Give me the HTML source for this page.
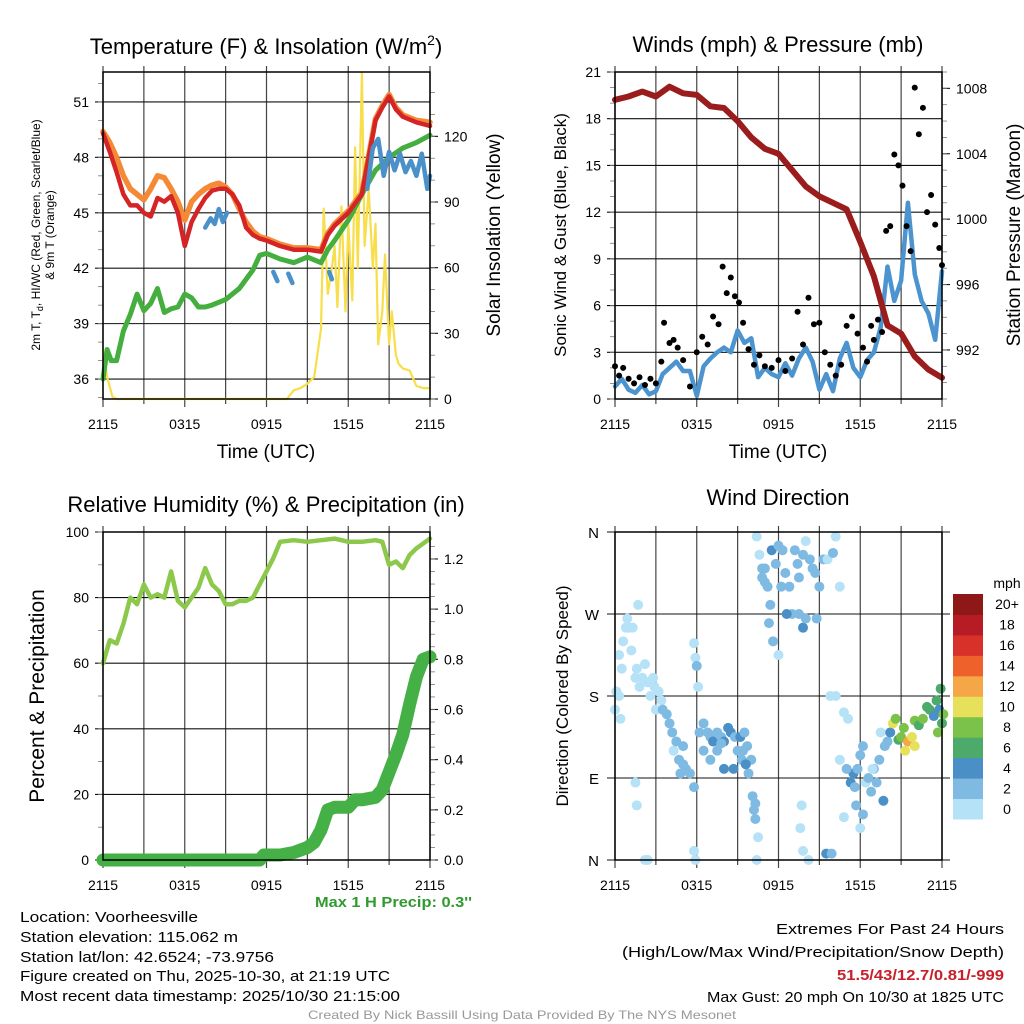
<!DOCTYPE html>
<html><head><meta charset="utf-8"><style>
body{margin:0;background:#fff}
svg{display:block;font-family:"Liberation Sans",sans-serif}
</style></head><body>
<svg id="chart" width="1024" height="1024" viewBox="0 0 1024 1024">
<rect width="1024" height="1024" fill="#fff"/>
<g id="g1"></g>
<g id="g2"></g>
<g id="g3"></g>
<g id="g4"></g>
<g id="txt" font-size="15">
<text x="20" y="922" textLength="178" lengthAdjust="spacingAndGlyphs">Location: Voorheesville</text>
<text x="20" y="942" textLength="218" lengthAdjust="spacingAndGlyphs">Station elevation: 115.062 m</text>
<text x="20" y="962" textLength="254" lengthAdjust="spacingAndGlyphs">Station lat/lon: 42.6524; -73.9756</text>
<text x="20" y="981" textLength="370" lengthAdjust="spacingAndGlyphs">Figure created on Thu, 2025-10-30, at 21:19 UTC</text>
<text x="20" y="1001" textLength="380" lengthAdjust="spacingAndGlyphs">Most recent data timestamp: 2025/10/30 21:15:00</text>
<text x="1004" y="934" text-anchor="end" textLength="228" lengthAdjust="spacingAndGlyphs">Extremes For Past 24 Hours</text>
<text x="1004" y="957" text-anchor="end" textLength="382" lengthAdjust="spacingAndGlyphs">(High/Low/Max Wind/Precipitation/Snow Depth)</text>
<text x="1004" y="980" text-anchor="end" fill="#c8202a" font-weight="bold" textLength="167" lengthAdjust="spacingAndGlyphs">51.5/43/12.7/0.81/-999</text>
<text x="1004" y="1002" text-anchor="end" textLength="297" lengthAdjust="spacingAndGlyphs">Max Gust: 20 mph On 10/30 at 1825 UTC</text>
<text x="522" y="1019" text-anchor="middle" fill="#999" font-size="12" textLength="428" lengthAdjust="spacingAndGlyphs">Created By Nick Bassill Using Data Provided By The NYS Mesonet</text>
<text x="472" y="907" text-anchor="end" fill="#2f9a2f" font-weight="bold" textLength="157" lengthAdjust="spacingAndGlyphs">Max 1 H Precip: 0.3''</text>
</g>
</svg>
<script>
// ---------- data ----------
const xTickLabels = ["2115","0315","0915","1515","2115"];
const tempTicks = [36,39,42,45,48,51];
const insTicks = [0,30,60,90,120];
const windTicks = [0,3,6,9,12,15,18,21];
const presTicks = [992,996,1000,1004,1008];
const rhTicks = [0,20,40,60,80,100];
const precipTicks = [0,0.2,0.4,0.6,0.8,1.0,1.2];
const dirTicks = [0,90,180,270,360];
const dirLabels = ["N","E","S","W","N"];

const redHours = [0,0.5,1,1.5,2,2.5,3,3.5,4,4.5,5,5.5,6,6.5,7,7.5,8,8.5,9,9.5,10,10.5,11,11.5,12,13,14,15,16,16.5,17,18,19,19.5,20,20.5,21,21.5,22,23,24];
const redTemp = [49.3,48.3,47.2,46.0,45.4,45.4,45.0,44.8,45.8,45.6,45.9,45.0,43.2,44.5,45.2,45.8,46.2,46.3,46.3,46.0,45.4,44.2,43.8,43.6,43.5,43.2,43.0,43.0,42.9,43.8,44.3,45.0,46.0,48.0,50.0,50.7,51.3,50.6,50.2,49.9,49.7];
const orangeHours = [0,0.5,1,1.5,2,2.5,3,3.5,4,4.5,5,5.5,6,6.5,7,7.5,8,8.5,9,9.5,10,10.5,11,11.5,12,13,14,15,16,16.5,17,18,19,19.5,20,20.5,21,21.5,22,23,24];
const orangeTemp = [49.4,48.8,48.0,47.0,46.3,46.0,45.7,46.3,47.0,46.9,46.3,45.6,44.6,45.6,46.0,46.3,46.5,46.6,46.4,46.0,45.2,44.5,44.0,43.7,43.6,43.3,43.1,43.1,43.0,43.9,44.4,45.1,46.1,48.1,50.1,50.8,51.4,50.7,50.3,50.0,49.9];
const greenHours = [0,0.3,0.6,1,1.5,2,2.5,3,3.5,4,4.5,5,5.5,6,6.5,7,7.5,8,9,10,11,11.5,12,13,14,15,16,16.5,17,18,19,20,21,22,23,24];
const greenTemp = [36.0,37.6,37.0,37.0,38.6,39.5,40.6,39.7,40.1,40.9,39.6,39.8,39.9,40.6,40.4,39.9,39.9,40.0,40.3,40.9,41.9,42.7,42.8,42.5,42.3,42.6,42.3,43.0,43.5,44.6,46.0,47.3,48.0,48.5,48.8,49.2];
const blueSegHours = [[7.5,7.9,8.2,8.5,8.8,9.1],[12.5,12.8],[13.6,13.9],[16.6,16.8],[19.4,19.8,20.2,20.6,21.0,21.4,21.8,22.2,22.6,23.0,23.4,23.8,24]];
const blueSegTemp = [[44.2,44.7,44.4,45.2,44.5,45.0],[41.8,41.3],[41.7,41.2],[41.8,41.4],[46.3,48.5,49.0,47.0,48.3,47.3,48.2,47.2,47.8,47.0,48.2,46.3,47.0]];
const insHours = [0,0.3,0.7,1,13.5,14,14.5,15,15.5,16,16.2,16.5,16.8,17,17.2,17.5,17.8,18,18.3,18.5,18.7,19,19.2,19.5,19.8,20,20.2,20.5,20.7,21,21.2,21.5,21.7,22,22.5,23,23.5,24];
const insValues = [22,10,1,0,0,4,5,7,10,32,87,48,60,70,42,88,40,80,45,115,60,149,70,96,60,80,25,40,66,25,40,20,16,14,13,6,5,5];

const presHours = [0,1,2,3,4,5,6,7,8,9,10,11,12,13,14,15,16,17,18,19,20,21,22,23,24];
const presValues = [1007.3,1007.5,1007.8,1007.5,1008.1,1007.7,1007.6,1006.9,1006.8,1006.0,1005.0,1004.3,1004.0,1003.0,1002.0,1001.4,1001.0,1000.6,998.6,996.5,993.5,993.0,991.6,990.8,990.3];
const windHours = [0,0.5,1,1.5,2,2.5,3,3.5,4,4.5,5,5.5,6,6.5,7,7.5,8,8.5,9,9.5,10,10.5,11,11.5,12,12.5,13,13.5,14,14.5,15,15.5,16,16.5,17,17.5,18,18.5,19,19.5,20,20.5,21,21.5,22,22.5,23,23.5,24];
const windSpeed = [0.8,1.3,0.6,0.4,0.9,0.3,0.5,1.6,2.0,2.4,1.8,1.8,0.2,2.1,2.6,3.0,3.3,3.0,4.4,3.6,3.9,1.4,2.0,1.6,1.4,2.3,1.5,2.6,3.3,2.4,0.6,1.6,0.5,2.6,3.6,2.0,1.4,2.5,3.0,4.6,8.5,6.3,7.6,12.6,8.0,6.3,5.5,3.8,8.2];
const gustHours = [0,0.3,0.6,1,1.4,1.8,2.2,2.6,3,3.4,3.6,4,4.3,4.6,5,5.5,6,6.4,6.8,7.2,7.6,7.9,8.2,8.5,8.8,9.1,9.4,9.8,10.2,10.6,11,11.5,12,12.5,13,13.4,13.8,14.2,14.6,15,15.4,15.8,16.2,16.6,17,17.4,17.8,18.2,18.5,18.8,19.0,19.3,19.6,19.9,20.2,20.5,20.8,21.1,21.4,21.7,22,22.3,22.6,22.9,23.2,23.5,23.8,24];
const gustSpeed = [2.1,1.5,2.0,1.3,1.0,1.4,0.9,1.3,1.0,2.4,4.9,3.6,3.8,3.3,2.5,0.8,3.0,4.0,3.5,5.3,4.8,8.5,6.8,7.8,6.6,6.2,4.9,3.2,2.2,2.8,2.1,2.0,2.5,1.8,2.6,5.6,3.5,6.5,4.8,4.9,3.0,2.2,1.5,2.2,4.7,5.3,4.2,3.3,2.4,4.7,3.8,5.1,4.3,10.8,11.1,15.7,15.0,13.7,11.1,9.5,20.0,17.0,18.7,12.0,13.1,11.2,9.7,8.6,14.7,12.1,9.1];

const rhHours = [0,0.5,1,1.5,2,2.5,3,3.5,4,4.5,5,5.5,6,6.5,7,7.5,8,8.5,9,9.5,10,10.5,11,11.5,12,12.5,13,14,15,16,17,18,19,20,20.5,21,21.5,22,22.5,23,24];
const rhValues = [60,67,66,72,80,78,84,80,81,80,88,79,77,80,83,89,84,82,78,78,79,79,80,84,88,92,97,97.5,97,97.5,98,97,97,97.5,97,90,91,89,93,95,98];
const precipHours = [0,11.5,11.8,13,14,15,15.5,16,16.5,17,18,18.5,19,20,20.5,21,21.5,22,22.5,23,23.5,24];
const precipValues = [0,0,0.02,0.02,0.03,0.05,0.07,0.12,0.2,0.21,0.21,0.24,0.24,0.25,0.28,0.35,0.42,0.5,0.62,0.73,0.8,0.81];

const dirHours = [0.0,0.1,0.3,0.5,0.6,0.8,0.9,1.0,1.2,1.3,1.5,1.6,1.8,2.0,2.2,2.4,2.6,2.8,2.9,3.0,3.2,3.4,1.7,1.5,1.6,2.2,2.4,0.4,0.3,
3.5,3.8,4.0,4.2,4.3,4.5,4.7,5.0,5.2,5.5,5.0,4.8,5.8,5.9,6.0,6.1,5.8,5.9,5.8,
6.2,6.5,6.8,7.0,7.2,7.5,7.8,8.0,8.3,8.5,8.8,9.0,9.2,9.5,9.7,6.5,7.0,7.5,8.0,8.7,9.3,9.8,10.0,9.6,9.4,7.8,
10.1,10.2,10.3,10.5,10.4,10.3,
10.4,10.6,10.8,11.0,11.2,11.5,11.8,12.0,12.3,11.3,11.6,12.0,12.2,12.5,12.8,13.0,13.2,13.5,13.8,14.0,14.3,14.5,14.7,15.0,15.3,15.6,12.6,13.5,13.8,14.0,11.0,14.8,11.4,10.8,16.2,16.5,16.0,13.4,15.8,16.2,
13.6,13.8,14.2,13.7,15.5,15.9,16.8,16.8,
17.3,17.5,17.6,17.8,18.0,18.2,17.7,18.0,18.2,18.4,18.6,18.8,19.0,19.2,19.4,19.7,19.5,19.8,20.0,20.2,20.4,20.6,20.8,21.0,21.2,21.5,21.3,21.8,22.0,22.3,22.6,22.9,23.1,23.4,23.6,23.8,23.9,24.0,24.1,23.7,22.0,17.1,16.5,17.0,18.9];
const dirValues = [165,185,225,210,240,255,265,255,230,255,200,210,190,200,215,195,180,200,190,165,185,175,280,85,60,0,0,155,180,
165,160,150,140,120,130,110,125,100,95,105,95,238,222,213,190,80,0,10,
140,150,140,135,130,140,135,130,145,140,135,120,135,140,125,120,110,120,100,100,110,95,110,105,120,128,
70,55,45,25,0,62,
355,335,320,305,300,340,325,345,340,260,240,225,300,315,300,270,340,310,335,350,330,320,315,300,330,330,270,270,255,265,320,265,280,310,355,300,337,325,180,180,
35,10,0,60,7,7,47,162,
85,95,80,100,115,125,60,35,50,85,90,75,100,85,110,65,140,125,130,140,150,155,132,135,145,130,120,135,153,148,155,168,165,158,175,165,188,150,160,140,125,155,110,100,100];
const dirSpeeds = [0,0,0,0,1,0,0,0,0,0,0,1,0,0,0,0,0,0,0,0,0,0,0,0,0,0,0,0,0,
2,2,2,2,0,2,2,2,2,2,2,2,0,0,3,0,3,0,0,
2,2,3,2,4,3,3,4,4,4,3,3,4,3,2,2,2,2,4,4,2,2,2,4,2,2,
3,2,2,0,0,3,
0,0,3,2,2,4,2,2,2,2,2,0,2,2,2,3,2,2,2,0,3,2,2,2,3,0,4,2,4,2,2,2,2,2,0,0,2,2,0,0,
0,0,0,0,4,2,0,0,
4,4,2,2,2,2,2,0,2,0,2,2,2,2,2,4,0,2,2,4,10,8,6,8,8,12,10,10,8,6,8,6,6,4,6,4,6,6,8,8,10,0,0,2,0];
const speedColors = ["#b5e2f6","#7fbae3","#4a8fc6","#4caa6b","#7bc24a","#e6e05a","#f5a646","#ef612b","#d8312a","#b71c24","#8e1718"];
const speedLabels = ["0","2","4","6","8","10","12","14","16","18","20+"];

// ---------- helpers ----------
const NS="http://www.w3.org/2000/svg";
function mk(tag,attrs,parent){const e=document.createElementNS(NS,tag);for(const k in attrs)e.setAttribute(k,attrs[k]);parent.appendChild(e);return e;}
function scale(d0,d1,r0,r1){return v=>r0+(v-d0)/(d1-d0)*(r1-r0);}
function txt(parent,x,y,s,size,anchor,extra){const t=mk('text',Object.assign({x:x,y:y,'font-size':size,'text-anchor':anchor||'middle'},extra||{}),parent);t.textContent=s;return t;}
function frame(g,P,xs){
  for(let h=0;h<=24;h+=3){const l=mk('line',{x1:xs(h),x2:xs(h),y1:P.y0-6,y2:P.y1+(h%6==0?8:5),stroke:'#444','stroke-width':1.2},g);
    
    }
  xTickLabels.forEach((s,i)=>{const t=txt(g,xs(i*6),P.y1+30,s,14);
    
    });
}
function yaxis(g,P,ticks,ys,side,labels,minorStep,d0,d1){
  ticks.forEach((v,i)=>{const y=ys(v);
    const l=mk('line',{x1:side=='left'?P.x0-8:P.x1,x2:side=='left'?P.x1:P.x1+8,y1:y,y2:y,stroke:'#111','stroke-width':1.1},g);
    
    
    const t=txt(g,side=='left'?P.x0-14:P.x1+14,y+5,labels?labels[i]:String(v),14,side=='left'?'end':'start');
    
    });
  if(minorStep){for(let v=Math.ceil(d0/minorStep)*minorStep;v<=d1;v+=minorStep){const y=ys(v);
    if(side=='left')mk('line',{x1:P.x0-5,x2:P.x0,y1:y,y2:y,stroke:'#777','stroke-width':0.8},g);
    else mk('line',{x1:P.x1,x2:P.x1+5,y1:y,y2:y,stroke:'#777','stroke-width':0.8},g);}}
}
function line(g,xsArr,ysArr,xs,ys,color,w,name){
  const d=xsArr.map((h,i)=>(i?'L':'M')+xs(h).toFixed(1)+','+ys(ysArr[i]).toFixed(1)).join('');
  const p=mk('path',{d:d,fill:'none',stroke:color,'stroke-width':w,'stroke-linejoin':'round','stroke-linecap':'round'},g);
  
  
  return p;
}
function border(g,P){const r=mk('rect',{x:P.x0,y:P.y0,width:P.x1-P.x0,height:P.y1-P.y0,fill:'none',stroke:'#000','stroke-width':1.5},g);
  
  }

// ---------- panel 1 ----------
(function(){
 const g=document.getElementById('g1');const P={x0:103,x1:430,y0:72,y1:399};
 const xs=scale(0,24,P.x0,P.x1),ys=scale(34.92,52.62,P.y1,P.y0),yi=scale(0,149.4,P.y1,P.y0);
 const t=txt(g,266,54,'Temperature (F) & Insolation (W/m',22);
 
 
 const sup=mk('tspan',{dy:-9,'font-size':14},t);sup.textContent='2';
 const cl=mk('tspan',{dy:9},t);cl.textContent=')';
 frame(g,P,xs);
 yaxis(g,P,tempTicks,ys,'left',null,1,35,52.6);
 yaxis(g,P,insTicks,yi,'right',null,10,0,149);
 line(g,insHours,insValues,xs,yi,'#f7de4a',2.2,'insolation-line');
 line(g,orangeHours,orangeTemp,xs,ys,'#f48a35',5.5,'temp-9m-line');
 line(g,greenHours,greenTemp,xs,ys,'#44ae3f',5,'dewpoint-line');
 line(g,redHours,redTemp,xs,ys,'#d42426',4.5,'temp-2m-line');
 blueSegHours.forEach((hs,i)=>line(g,hs,blueSegTemp[i],xs,ys,'#4a90c9',4.5,'heat-index-line'));
 border(g,P);
 const a=txt(g,266,458,'Time (UTC)',19);
 const r=txt(g,0,0,'Solar Insolation (Yellow)',19,'middle',{transform:'translate(500,235) rotate(-90)'});
 
 const l1=txt(g,0,0,'2m T, T',12,'middle',{transform:'translate(40,235) rotate(-90)'});
 const s=mk('tspan',{dy:3,'font-size':9},l1);s.textContent='d';
 const s2=mk('tspan',{dy:-3},l1);s2.textContent=', HI/WC (Red, Green, Scarlet/Blue)';
 
 const l2=txt(g,0,0,'& 9m T (Orange)',12,'middle',{transform:'translate(54,235) rotate(-90)'});
 
})();

// ---------- panel 2 ----------
(function(){
 const g=document.getElementById('g2');const P={x0:615,x1:942,y0:72,y1:399};
 const xs=scale(0,24,P.x0,P.x1),ys=scale(0,21,P.y1,P.y0),yp=scale(989,1009,P.y1,P.y0);
 const t=txt(g,778,52,'Winds (mph) & Pressure (mb)',22);
 frame(g,P,xs);
 yaxis(g,P,windTicks,ys,'left',null,1,0,21);
 yaxis(g,P,presTicks,yp,'right',null,1,989,1009);
 line(g,windHours,windSpeed,xs,ys,'#4c94cf',4.5,'wind-speed-line');
 gustHours.forEach((h,i)=>{const c=mk('circle',{cx:xs(h),cy:ys(gustSpeed[i]),r:3,fill:'#000'},g);
   
   });
 line(g,presHours,presValues,xs,yp,'#9b1c1c',6,'pressure-line');
 border(g,P);
 const a=txt(g,778,458,'Time (UTC)',19);
 const l=txt(g,0,0,'Sonic Wind & Gust (Blue, Black)',17,'middle',{transform:'translate(566,235) rotate(-90)'});
 
 const r=txt(g,0,0,'Station Pressure (Maroon)',19,'middle',{transform:'translate(1020,235) rotate(-90)'});
 
})();

// ---------- panel 3 ----------
(function(){
 const g=document.getElementById('g3');const P={x0:103,x1:430,y0:532,y1:860};
 const xs=scale(0,24,P.x0,P.x1),ys=scale(0,100,P.y1,P.y0),yp=scale(0,1.3075,P.y1,P.y0);
 const t=txt(g,266,512,'Relative Humidity (%) & Precipitation (in)',22);
 frame(g,P,xs);
 yaxis(g,P,rhTicks,ys,'left',null,10,0,100);
 yaxis(g,P,precipTicks,yp,'right',["0.0","0.2","0.4","0.6","0.8","1.0","1.2"],0.05,0,1.3);
 line(g,rhHours,rhValues,xs,ys,'#8cc84b',4.5,'humidity-line');
 line(g,precipHours,precipValues,xs,yp,'#45b045',13,'precip-line');
 border(g,P);
 const l=txt(g,0,0,'Percent & Precipitation',21,'middle',{transform:'translate(44,696) rotate(-90)'});
 
})();

// ---------- panel 4 ----------
(function(){
 const g=document.getElementById('g4');const P={x0:615,x1:942,y0:532,y1:860};
 const xs=scale(0,24,P.x0,P.x1),ys=scale(0,360,P.y1,P.y0);
 const t=txt(g,778,505,'Wind Direction',22);
 frame(g,P,xs);
 dirTicks.forEach((v,i)=>{const y=ys(v);
   const l=mk('line',{x1:P.x0-8,x2:P.x1+8,y1:y,y2:y,stroke:'#111','stroke-width':1.1},g);
   
   const tt=txt(g,P.x0-16,y+6,dirLabels[i],15,'end');
   });
 dirHours.forEach((h,i)=>{const s=dirSpeeds[i];const idx=Math.min(10,Math.floor(s/2));
   const c=mk('circle',{cx:xs(h),cy:ys(dirValues[i]),r:5,fill:speedColors[idx]},g);
   
   });
 border(g,P);
 const l=txt(g,0,0,'Direction (Colored By Speed)',17,'middle',{transform:'translate(568,696) rotate(-90)'});
 
 const cb=mk('g',{},g);
 const top=594;
 for(let i=0;i<11;i++){const y=top+(10-i)*(225/11);
   const r=mk('rect',{x:953,y:y,width:30,height:225/11+0.5,fill:speedColors[i]},cb);
   
   const tt=txt(cb,1007,y+225/22+5,speedLabels[i],14);
   }
 const u=txt(cb,1007,588,'mph',14);
})();
</script>
</body></html>
